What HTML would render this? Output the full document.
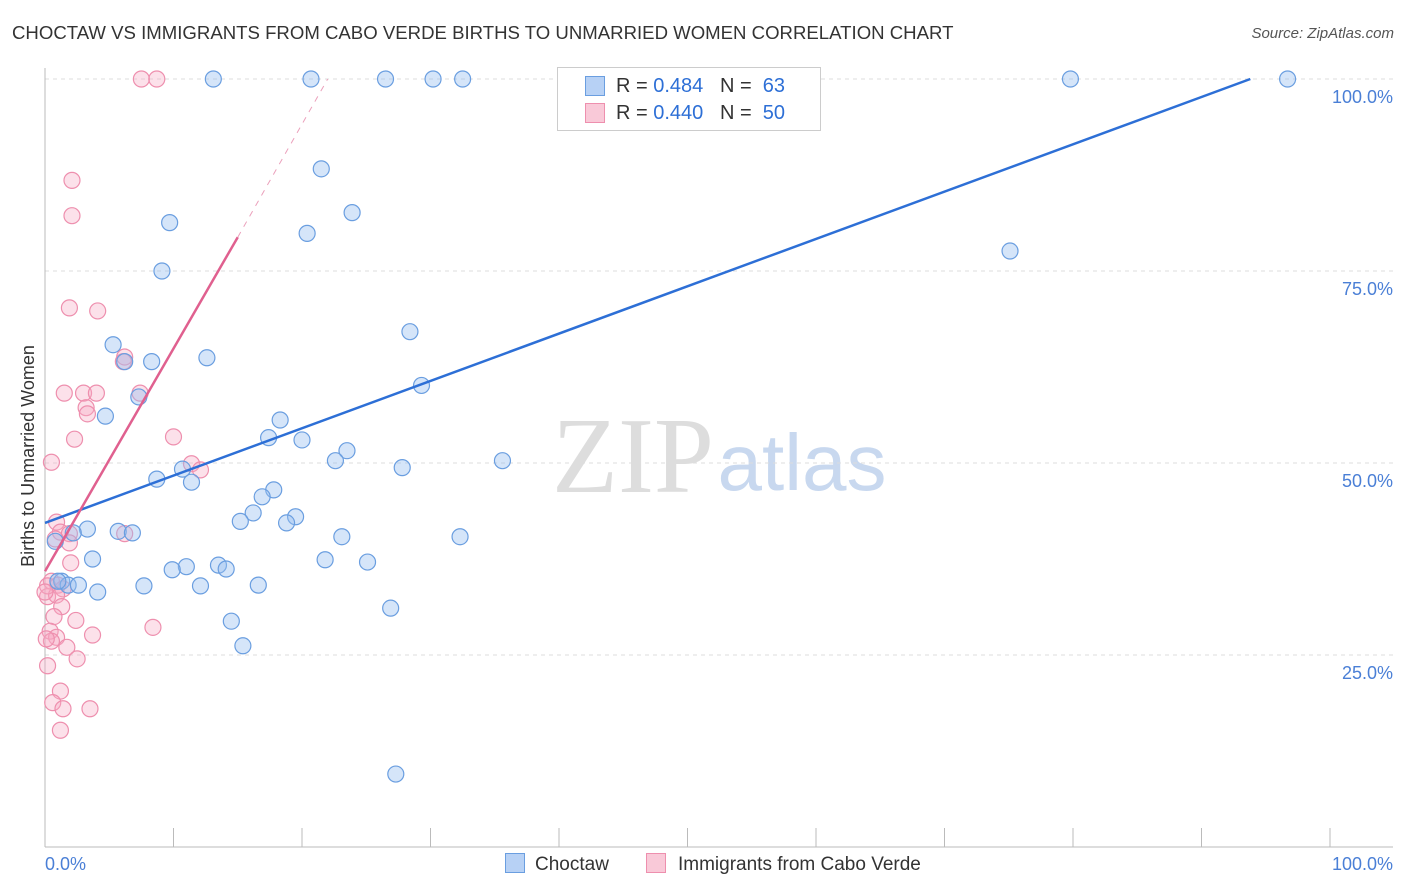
<!DOCTYPE html>
<html><head><meta charset="utf-8">
<style>
body{margin:0;background:#fff;font-family:"Liberation Sans",sans-serif;}
#wrap{position:relative;width:1406px;height:892px;overflow:hidden;}
.t{position:absolute;white-space:nowrap;}
</style></head><body>
<div id="wrap">
<div class="t" style="left:12px;top:22px;font-size:18.6px;color:#333;">CHOCTAW VS IMMIGRANTS FROM CABO VERDE BIRTHS TO UNMARRIED WOMEN CORRELATION CHART</div>
<div class="t" style="right:12px;top:25px;font-size:15px;color:#555;font-style:italic;">Source: ZipAtlas.com</div>
<svg id="svg" width="1406" height="892" style="position:absolute;left:0;top:0"></svg>
</div>
<script>
const yTicks=[25,50,75,100];
const yTickLabels=["25.0%","50.0%","75.0%","100.0%"];
const xTickLabels=["0.0%","100.0%"];
const choctawX=[13.1,20.7,26.5,30.2,32.5,79.8,96.7,21.5,23.9,9.7,20.4,75.1,9.1,28.4,5.3,12.6,6.2,8.3,29.3,7.3,4.7,18.3,17.4,20,23.5,22.6,35.6,27.8,10.7,8.7,11.4,17.8,16.9,19.5,16.2,15.2,18.8,3.3,5.7,6.8,2.2,0.8,23.1,32.3,3.7,21.8,25.1,13.5,11,14.1,9.9,1.3,1.8,2.6,7.7,16.6,12.1,4.1,26.9,14.5,15.4,27.3,1];
const choctawY=[100,100,100,100,100,100,100,88.3,82.6,81.3,79.9,77.6,75,67.1,65.4,63.7,63.2,63.2,60.1,58.6,56.1,55.6,53.3,53,51.6,50.3,50.3,49.4,49.2,47.9,47.5,46.5,45.6,43,43.5,42.4,42.2,41.4,41.1,40.9,40.9,39.8,40.4,40.4,37.5,37.4,37.1,36.7,36.5,36.2,36.1,34.6,34.1,34.1,34,34.1,34,33.2,31.1,29.4,26.2,9.5,34.6];
const caboX=[7.5,8.7,2.1,2.1,1.9,4.1,6.2,6.1,1.5,3,4,7.4,3.2,3.3,2.3,10,0.5,11.4,12.1,0.9,1.2,1.9,6.2,0.8,1.9,2,0.5,1,1.4,0.2,0.9,1.3,2.4,0.7,0.4,3.7,8.4,0.9,0.5,1.7,2.5,0.2,1.2,0.6,1.4,3.5,1.2,0.2,0,0.1];
const caboY=[100,100,86.8,82.2,70.2,69.8,63.8,63.2,59.1,59.1,59.1,59.1,57.2,56.4,53.1,53.4,50.1,49.9,49.1,42.3,41,40.8,40.8,40.1,39.6,37,34.6,34.1,33.6,32.6,32.8,31.3,29.5,30,28.1,27.6,28.6,27.3,26.8,26,24.5,23.6,20.3,18.8,18,18,15.2,34,33.2,27.1];
const blueLine=[[0,42.2],[93.8,100]];
const pinkLine=[[0,35.9],[15,79.4]];
const pinkDash=[[15,79.4],[22,100]];
const X0=45,X1=1330,Y0=847,Y100=79;
const sx=v=>X0+v*(X1-X0)/100, sy=v=>Y0-v*(Y0-Y100)/100;
const svg=document.getElementById('svg');const NS='http://www.w3.org/2000/svg';
function mk(tag,attrs,parent){const e=document.createElementNS(NS,tag);for(const k in attrs)e.setAttribute(k,attrs[k]);(parent||svg).appendChild(e);return e;}
let w1=mk('text',{x:633,y:492,'font-size':108,'font-family':'Liberation Serif,serif',fill:'#ddd','text-anchor':'middle'});w1.textContent='ZIP';


let w2=mk('text',{x:802,y:490,'font-size':80,'font-family':'Liberation Sans,sans-serif',fill:'#c8d8ef','text-anchor':'middle'});w2.textContent='atlas';


yTicks.forEach((v,i)=>{const g=mk('line',{x1:45,x2:1393,y1:sy(v),y2:sy(v),stroke:'#ddd','stroke-dasharray':'4,4'});


const t=mk('text',{x:1393,y:sy(v)+24,'font-size':18,fill:'#4a7fd6','text-anchor':'end'});t.textContent=yTickLabels[i];

});
let ax=mk('line',{x1:45,x2:1393,y1:847,y2:847,stroke:'#bbb'});
let ay=mk('line',{x1:45,x2:45,y1:68,y2:847,stroke:'#bbb'});
for(let i=0;i<=10;i++){const tk=mk('line',{x1:sx(i*10),x2:sx(i*10),y1:828,y2:847,stroke:'#bbb'});

}
const xl=[[0,'start',45],[1,'end',1393]];
xl.forEach(([i,a,x])=>{const t=mk('text',{x:x,y:870,'font-size':18,fill:'#4a7fd6','text-anchor':a});t.textContent=xTickLabels[i];

});
let yt=mk('text',{x:0,y:0,'font-size':18,fill:'#333','text-anchor':'middle',transform:'translate(34,456) rotate(-90)'});yt.textContent='Births to Unmarried Women';


function pts(xs,ys,fill,stroke,name){xs.forEach((x,i)=>{const c=mk('circle',{cx:sx(x),cy:sy(ys[i]),r:8,fill:fill,stroke:stroke,'stroke-width':1.2});

});}
pts(caboX,caboY,'rgba(246,170,195,0.35)','#ee8fae','point-cabo-verde');
pts(choctawX,choctawY,'rgba(150,190,240,0.4)','#6a9ee0','point-choctaw');
function ln(p,col,dash,name){const l=mk('line',{x1:sx(p[0][0]),y1:sy(p[0][1]),x2:sx(p[1][0]),y2:sy(p[1][1]),stroke:col,'stroke-width':dash?1:2.5,'stroke-dasharray':dash||''});

}
ln(blueLine,'#2d6fd6',null,'trend-choctaw');
ln(pinkLine,'#e0608f',null,'trend-cabo-verde');
ln(pinkDash,'#eba0bb','6,6','trend-cabo-verde-extension');
</script>
<div class="t" style="left:557px;top:67px;width:262px;height:62px;border:1px solid #ccc;background:#fff;font-size:20px;color:#333;">
<div style="position:absolute;left:27px;top:8px;width:18px;height:18px;background:#b7d1f5;border:1px solid #6a9ee0"></div>
<div style="position:absolute;left:58px;top:7px">R = <span style="color:#2d6fd6">0.484</span>&nbsp;&nbsp;&nbsp;N = &nbsp;<span style="color:#2d6fd6">63</span></div>
<div style="position:absolute;left:27px;top:35px;width:18px;height:18px;background:#f9c9d8;border:1px solid #ee8fae"></div>
<div style="position:absolute;left:58px;top:34px">R = <span style="color:#2d6fd6">0.440</span>&nbsp;&nbsp;&nbsp;N = &nbsp;<span style="color:#2d6fd6">50</span></div>
</div>
<div class="t" style="left:505px;top:853px;font-size:19px;color:#333"><span style="display:inline-block;width:18px;height:18px;background:#b7d1f5;border:1px solid #6a9ee0;vertical-align:-3px;margin-right:10px"></span>Choctaw</div>
<div class="t" style="left:646px;top:853px;font-size:19px;color:#333"><span style="display:inline-block;width:18px;height:18px;background:#f9c9d8;border:1px solid #ee8fae;vertical-align:-3px;margin-right:12px"></span>Immigrants from Cabo Verde</div>
</body></html>
